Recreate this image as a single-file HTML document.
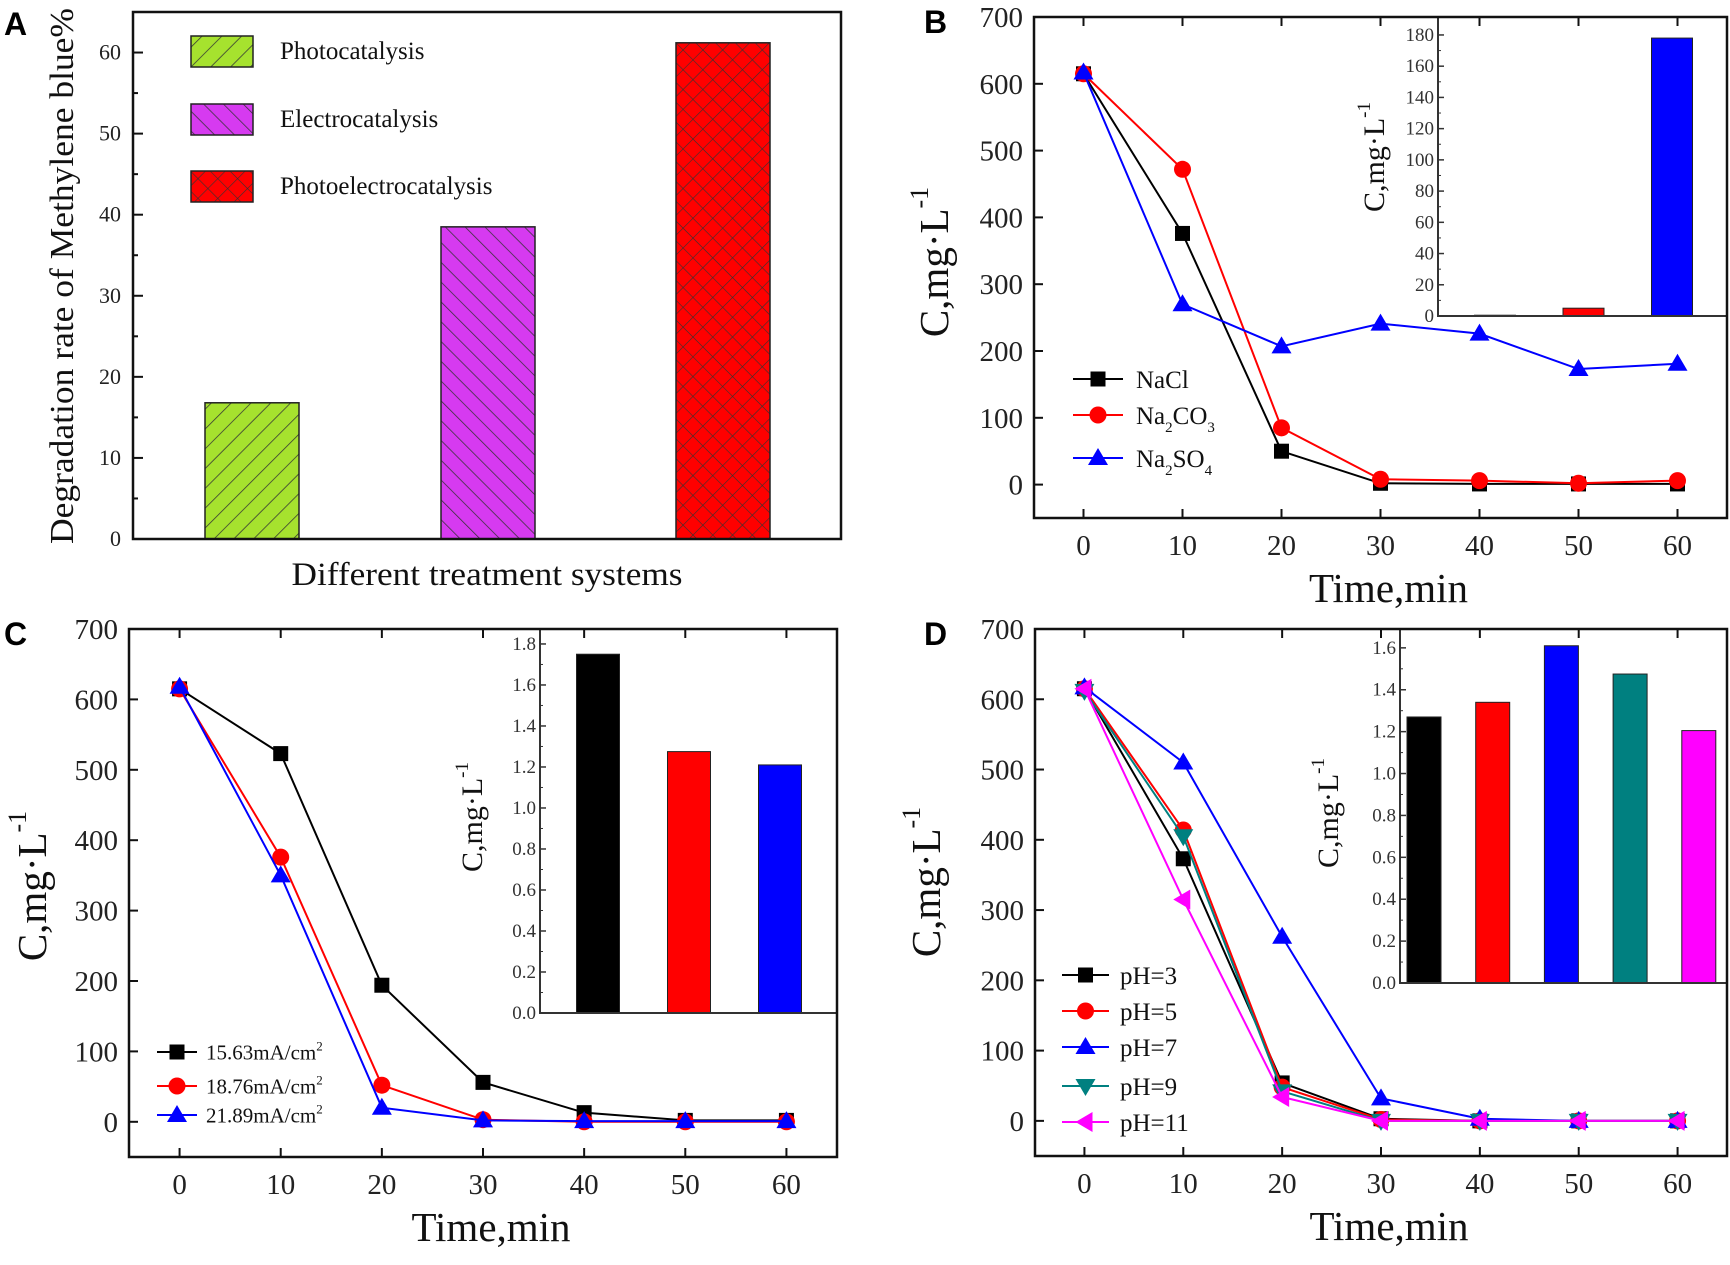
<!DOCTYPE html>
<html><head><meta charset="utf-8"><title>Degradation figure</title>
<style>
html,body{margin:0;padding:0;background:#fff;}
svg{display:block;font-family:"Liberation Serif",serif;}
.lab{font-family:"Liberation Sans",sans-serif;font-weight:bold;font-size:32px;}
</style></head>
<body>
<svg id="fig" width="1730" height="1265" viewBox="0 0 1730 1265" xmlns="http://www.w3.org/2000/svg">
<defs>
<pattern id="pGreen" width="14" height="14" patternUnits="userSpaceOnUse" patternTransform="rotate(45)">
<rect width="14" height="14" fill="#a6e22e"/><line x1="0" y1="0" x2="0" y2="14" stroke="#333" stroke-width="1.5"/></pattern>
<pattern id="pMag" width="14" height="14" patternUnits="userSpaceOnUse" patternTransform="rotate(-45)">
<rect width="14" height="14" fill="#d63af0"/><line x1="0" y1="0" x2="0" y2="14" stroke="#333" stroke-width="1.5"/></pattern>
<pattern id="pRed" width="14" height="14" patternUnits="userSpaceOnUse" patternTransform="rotate(45)">
<rect width="14" height="14" fill="#ff0000"/><line x1="0" y1="0" x2="0" y2="14" stroke="#333" stroke-width="1.2"/><line x1="0" y1="0" x2="14" y2="0" stroke="#333" stroke-width="1.2"/></pattern>
</defs>
</svg>
<script>
// ---- Panel A data ----
const aCategories = ["Photocatalysis","Electrocatalysis","Photoelectrocatalysis"];
const aValues = [16.8, 38.5, 61.2];
const aTicks = [0,10,20,30,40,50,60];
// ---- Panel B data ----
const timeVals = [0,10,20,30,40,50,60];
const xTicks = [0,10,20,30,40,50,60];
const yTicks = [0,100,200,300,400,500,600,700];
const bNames = ["NaCl","Na2CO3","Na2SO4"];
const bNaCl = [615,376,50,2,1,1,1];
const bNa2CO3 = [615,472,85,8,6,2,6];
const bNa2SO4 = [617,270,207,241,226,173,181];
const bInsetValues = [0.5,5,178];
const bInsetTicks = [0,20,40,60,80,100,120,140,160,180];
// ---- Panel C data ----
const cNames = ["15.63mA/cm2","18.76mA/cm2","21.89mA/cm2"];
const c1563 = [615,523,194,56,13,2,2];
const c1876 = [615,376,52,3,0,0,0];
const c2189 = [618,350,20,2,1,1,1];
const cInsetValues = [1.75,1.275,1.21];
const cInsetTicks = [0.0,0.2,0.4,0.6,0.8,1.0,1.2,1.4,1.6,1.8];
// ---- Panel D data ----
const dNames = ["pH=3","pH=5","pH=7","pH=9","pH=11"];
const dPH3 = [615,373,54,3,0,0,0];
const dPH5 = [615,414,48,2,0,0,0];
const dPH7 = [617,510,262,32,3,0,0];
const dPH9 = [612,405,42,0,0,0,0];
const dPH11 = [615,315,34,0,0,0,0];
const dInsetValues = [1.27,1.34,1.61,1.475,1.205];
const dInsetTicks = [0.0,0.2,0.4,0.6,0.8,1.0,1.2,1.4,1.6];

const NS="http://www.w3.org/2000/svg";
const svg=document.getElementById('fig');
function mk(tag,attrs,parent){const e=document.createElementNS(NS,tag);for(const k in attrs)e.setAttribute(k,attrs[k]);(parent||svg).appendChild(e);return e;}
function txt(s,attrs,parent){const e=mk('text',attrs,parent);e.textContent=s;return e;}

// ========== Panel A ==========
(function(){
 const g=mk('g',{});
 
 
 const L=133,R=841,T=12,B=539,ymax=65;
 const y=v=>B-(v/ymax)*(B-T);
 const bx=[205,441,676], bw=94;
 const fills=['url(#pGreen)','url(#pMag)','url(#pRed)'];
 aValues.forEach((v,i)=>{
  const r=mk('rect',{x:bx[i],y:y(v),width:bw,height:B-y(v),fill:fills[i],stroke:'#222','stroke-width':1.5},g);
  
  
 });
 const f=mk('rect',{x:L,y:T,width:R-L,height:B-T,fill:'none',stroke:'#111','stroke-width':2.5},g);
 
 
 for(let v=0;v<=65;v+=5){
  const major=v%10===0;
  mk('line',{x1:L,x2:L+(major?10:5),y1:y(v),y2:y(v),stroke:'#111','stroke-width':2},g);
 }
 aTicks.forEach(v=>{
  const t=txt(String(v),{x:121,y:y(v)+7,'text-anchor':'end','font-size':22,fill:'#222'},g);
  
  
 });
 const yt=txt('Degradation rate of Methylene blue%',{x:0,y:0,'font-size':34,'text-anchor':'middle',transform:'translate(73,276) rotate(-90)',textLength:536,lengthAdjust:'spacingAndGlyphs',fill:'#111'},g);
 
 
 const xt=txt('Different treatment systems',{x:487,y:585,'font-size':33,'text-anchor':'middle',textLength:391,lengthAdjust:'spacingAndGlyphs',fill:'#111'},g);
 
 
 const ly=[36,104,171];
 aCategories.forEach((c,i)=>{
  const s=mk('rect',{x:191,y:ly[i],width:62,height:31,fill:fills[i],stroke:'#222','stroke-width':1.5},g);
  
  
  const t=txt(c,{x:280,y:ly[i]+23,'font-size':25,fill:'#111'},g);
  
  
 });
 const lab=txt('A',{x:4,y:35,class:'lab'},g);
 
 
})();

// ========== Marker helper ==========
function marker(type,cx,cy,color,parent){
 let e;
 if(type==='square') e=mk('rect',{x:cx-7.5,y:cy-7.5,width:15,height:15,fill:color},parent);
 else if(type==='circle') e=mk('circle',{cx:cx,cy:cy,r:8.5,fill:color},parent);
 else if(type==='up') e=mk('polygon',{points:`${cx},${cy-10} ${cx-10},${cy+7} ${cx+10},${cy+7}`,fill:color},parent);
 else if(type==='down') e=mk('polygon',{points:`${cx},${cy+10} ${cx-10},${cy-7} ${cx+10},${cy-7}`,fill:color},parent);
 else if(type==='left') e=mk('polygon',{points:`${cx-10},${cy} ${cx+7},${cy-10} ${cx+7},${cy+10}`,fill:color},parent);
 return e;
}

// ========== Line panel builder ==========
function linePanel(cfg){
 const g=mk('g',{});
 
 
 const {L,R,T,B}=cfg;
 const x=v=>L+(v+5)/70*(R-L);
 const y=v=>B-(v+50)/750*(B-T);
 const I=cfg.inset;
 const iy=v=>I.B-(v/I.ymax)*(I.B-T);
 I.values.forEach((v,i)=>{
  const cx=I.L+I.off+i*I.step;
  const r=mk('rect',{x:cx-I.bw/2,y:iy(v),width:I.bw,height:I.B-iy(v),fill:I.colors[i],stroke:'#222','stroke-width':1},g);
  
  
 });
 const il=mk('path',{d:`M${I.L},${T} V${I.B} H${R}`,fill:'none',stroke:'#333','stroke-width':2},g);
 
 
 I.ticks.forEach((v,k)=>{
  mk('line',{x1:I.L,x2:I.L+6,y1:iy(v),y2:iy(v),stroke:'#333','stroke-width':1.5},g);
  if(k<I.ticks.length-1){const mv=(v+I.ticks[k+1])/2;mk('line',{x1:I.L,x2:I.L+3,y1:iy(mv),y2:iy(mv),stroke:'#333','stroke-width':1},g);}
  const t=txt(I.fmt(v),{x:I.L-4,y:iy(v)+6,'text-anchor':'end','font-size':19,fill:'#333'},g);
  
  
 });
 const it=mk('text',{x:0,y:0,'font-size':30,'text-anchor':'middle',transform:`translate(${I.titleX},${I.titleY}) rotate(-90)`,fill:'#111'},g);
 it.innerHTML='C,mg·L<tspan font-size="19" dy="-14">-1</tspan>';
 
 
 cfg.series.forEach((s,si)=>{
  const pts=s.vals.map((v,i)=>`${x(timeVals[i])},${y(v)}`).join(' ');
  const pl=mk('polyline',{points:pts,fill:'none',stroke:s.color,'stroke-width':2},g);
  
  
  s.vals.forEach((v,i)=>{
   const m=marker(s.marker,x(timeVals[i]),y(v),s.color,g);
   
   
  });
 });
 const f=mk('rect',{x:L,y:T,width:R-L,height:B-T,fill:'none',stroke:'#111','stroke-width':2.5},g);
 
 
 xTicks.forEach(v=>{
  mk('line',{x1:x(v),x2:x(v),y1:B,y2:B-9,stroke:'#111','stroke-width':2},g);
  mk('line',{x1:x(v),x2:x(v),y1:T,y2:T+9,stroke:'#111','stroke-width':2},g);
  const t=txt(String(v),{x:x(v),y:B+37,'text-anchor':'middle','font-size':29,fill:'#222'},g);
  
  
 });
 yTicks.forEach(v=>{
  mk('line',{x1:L,x2:L+9,y1:y(v),y2:y(v),stroke:'#111','stroke-width':2},g);
  const t=txt(String(v),{x:L-11,y:y(v)+10,'text-anchor':'end','font-size':29,fill:'#222'},g);
  
  
 });
 const yt=mk('text',{x:0,y:0,'font-size':41,'text-anchor':'middle',transform:`translate(${cfg.ytX},${cfg.ytY}) rotate(-90)`,fill:'#111'},g);
 yt.innerHTML='C,mg·L<tspan font-size="26" dy="-20">-1</tspan>';
 
 
 const xt=txt('Time,min',{x:(L+R)/2+8,y:B+84,'text-anchor':'middle','font-size':41,fill:'#111'},g);
 
 
 const Lg=cfg.legend;
 cfg.series.forEach((s,si)=>{
  const ly=Lg.rows[si];
  mk('line',{x1:Lg.x1,x2:Lg.x2,y1:ly,y2:ly,stroke:s.color,'stroke-width':2},g);
  marker(s.marker,(Lg.x1+Lg.x2)/2,ly,s.color,g);
  const t=mk('text',{x:Lg.tx,y:ly+Lg.fs*0.35,'font-size':Lg.fs,fill:'#111'},g);
  t.innerHTML=s.label;
  
  
 });
 const lab=txt(cfg.letter,{x:cfg.labX,y:cfg.labY,class:'lab'},g);
 
 
}

const sub=(a)=>`<tspan font-size="15" dy="8">${a}</tspan><tspan dy="-8">`;
linePanel({name:'panel-b',letter:'B',labX:924,labY:33,L:1034,R:1727,T:17,B:518,ytX:948,ytY:262,
 series:[
  {vals:bNaCl,color:'#000',marker:'square',label:'NaCl'},
  {vals:bNa2CO3,color:'#ff0000',marker:'circle',label:'Na'+sub('2')+'CO'+'</tspan><tspan font-size="15" dy="8">3</tspan>'},
  {vals:bNa2SO4,color:'#0000ff',marker:'up',label:'Na'+sub('2')+'SO'+'</tspan><tspan font-size="15" dy="8">4</tspan>'}],
 legend:{x1:1073,x2:1123,tx:1136,rows:[379,415,458],fs:25},
 inset:{L:1438,B:316,ymax:191.5,values:bInsetValues,colors:['#000','#ff0000','#0000ff'],off:57,step:88.5,bw:41,ticks:bInsetTicks,fmt:v=>String(v),titleX:1384,titleY:157}
});
const sup2='<tspan font-size="13" dy="-9">2</tspan>';
linePanel({name:'panel-c',letter:'C',labX:4,labY:645,L:129,R:837,T:629,B:1157,ytX:46,ytY:886,
 series:[
  {vals:c1563,color:'#000',marker:'square',label:'15.63mA/cm'+sup2},
  {vals:c1876,color:'#ff0000',marker:'circle',label:'18.76mA/cm'+sup2},
  {vals:c2189,color:'#0000ff',marker:'up',label:'21.89mA/cm'+sup2}],
 legend:{x1:157,x2:197,tx:206,rows:[1052,1086,1115],fs:21},
 inset:{L:540,B:1013,ymax:1.873,values:cInsetValues,colors:['#000','#ff0000','#0000ff'],off:58,step:91,bw:43,ticks:cInsetTicks,fmt:v=>v.toFixed(1),titleX:482,titleY:817}
});
linePanel({name:'panel-d',letter:'D',labX:924,labY:645,L:1035,R:1727,T:629,B:1156,ytX:940,ytY:882,
 series:[
  {vals:dPH3,color:'#000',marker:'square',label:'pH=3'},
  {vals:dPH5,color:'#ff0000',marker:'circle',label:'pH=5'},
  {vals:dPH7,color:'#0000ff',marker:'up',label:'pH=7'},
  {vals:dPH9,color:'#008080',marker:'down',label:'pH=9'},
  {vals:dPH11,color:'#ff00ff',marker:'left',label:'pH=11'}],
 legend:{x1:1062,x2:1109,tx:1120,rows:[975,1011,1047,1086,1122],fs:25},
 inset:{L:1400,B:983,ymax:1.69,values:dInsetValues,colors:['#000','#ff0000','#0000ff','#008080','#ff00ff'],off:24,step:68.7,bw:34,ticks:dInsetTicks,fmt:v=>v.toFixed(1),titleX:1338,titleY:813}
});
</script>
</body></html>
